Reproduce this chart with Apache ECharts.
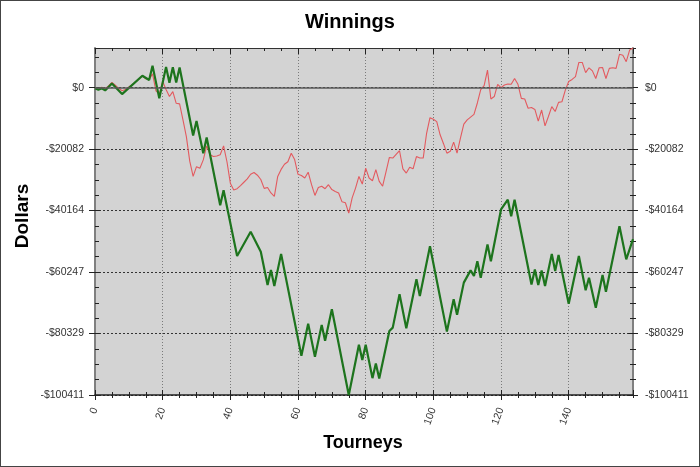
<!DOCTYPE html>
<html>
<head>
<meta charset="utf-8">
<script src="https://cdn.jsdelivr.net/npm/echarts@6/dist/echarts.min.js"></script>
<style>
  html, body { margin: 0; padding: 0; background: #fff; }
  #wrap { position: relative; width: 700px; height: 467px; box-sizing: border-box; border: 1px solid #444; }
  #chart { position: absolute; left: -1px; top: -1px; width: 700px; height: 467px; }
</style>
</head>
<body>
<div id="wrap"><div id="chart"></div></div>
<script>
// ---- data ----
const chartTitle = 'Winnings';
const xTitle = 'Tourneys';
const yTitle = 'Dollars';

// red series: one value per tourney (index = tourney number 0..159)
const redValues = [
  0, -400, 100, -300, 600, 1700, 800, -200, -1000, -600,
  200, 1000, 1900, 2900, 3800, 2900, 2700, 4500, -1000, -2000,
  2000, -600, -2900, -1300, -5100, -5300, -10500, -16000, -24000, -29000,
  -25800, -26300, -23600, -19000, -21900, -22500, -22300, -21900, -19000, -24200,
  -31200, -33400, -33000, -32000, -30900, -29800, -28300, -27700, -28600, -30000,
  -32900, -32600, -34400, -35500, -29000, -26700, -25000, -24200, -21400, -23500,
  -28300, -28700, -29500, -27600, -31700, -35200, -32600, -32200, -33000, -31700,
  -33300, -33900, -34400, -37300, -37600, -41000, -36000, -32800, -29000, -31500,
  -26300, -29500, -30400, -26800, -30600, -32200, -27500, -22800, -23000, -21800,
  -20600, -26500, -27900, -26000, -26500, -22500, -23000, -23000, -14900, -9800,
  -10300, -11100, -15400, -18300, -21400, -20800, -17800, -21400, -16500, -11900,
  -10500, -9600, -8700, -5000, -600, 650, 5750, -3700, -2900, 1100,
  0, 870, 1200, 1100, 3000, 1100, -3500, -3700, -6700, -6500,
  -7100, -10900, -7300, -12500, -9400, -6200, -7800, -4800, -4600, -800,
  2000, 2700, 3600, 8250, 8250, 4900, 6500, 5500, 3000, 6500,
  6600, 3000, 6300, 6500, 6300, 10900, 10600, 8500, 12300, 12965
];

// green series: turning points (tourney number, dollars)
const greenTourneys = [
  0, 1, 2, 3, 5, 8, 14, 16, 17, 19, 21, 22, 23, 24, 25, 29, 30, 32, 33, 37,
  38, 42, 46, 49, 51, 52, 53, 55, 61, 63, 65, 67, 68, 70, 75, 78, 79, 80, 82, 83,
  84, 87, 88, 90, 92, 95, 96, 99, 104, 106, 107, 109, 111, 112, 113, 114, 116, 117, 120, 122,
  123, 124, 129, 130, 131, 132, 133, 135, 136, 137, 140, 143, 145, 146, 148, 150, 151, 155, 157, 159
];
const greenValues = [
  -200, -700, -200, -900, 1400, -2100, 3900, 2500, 7200, -3500, 6800, 1600, 6700, 1700, 6600, -15600, -10900, -21400, -16300, -38400,
  -33500, -55000, -47100, -53600, -64500, -59600, -64800, -54300, -87600, -77100, -87900, -77500, -82700, -72400, -100411, -84000, -89000, -84000, -94900, -90100,
  -95000, -79500, -78400, -67500, -78600, -62600, -68100, -51800, -79700, -69100, -74200, -63700, -59700, -61500, -56700, -62100, -51200, -56700, -39800, -36600,
  -42000, -36600, -64300, -59400, -64500, -59700, -64800, -54300, -59900, -54700, -70600, -55000, -66200, -62100, -71900, -61200, -66700, -45300, -56100, -49500
];

// axis ranges / ticks
const xMin = 0, xMax = 159, xMajor = 20, xMinor = 5;
const yMin = -100411, yMax = 12965, yMajor = 20082.2, yMinor = 5020.55;

// ---- chart ----
const FONT = '"Liberation Sans", Arial, sans-serif';
const fmtDollar = v => {
  const r = Math.round(Math.abs(v));
  if (r === 0) return '$0';
  return (v < 0 ? '-' : '') + '$' + r;
};

function xAx(pos, interval, tick, extra) {
  return Object.assign({
    type: 'value', gridIndex: 0, position: pos, min: xMin, max: xMax, interval: interval,
    axisLine: { show: false, onZero: false },
    axisTick: tick,
    axisLabel: { show: false },
    splitLine: { show: false },
    silent: true
  }, extra || {});
}
function yAx(pos, interval, tick, extra) {
  return Object.assign({
    type: 'value', gridIndex: 0, position: pos, min: yMin, max: yMax, interval: interval,
    axisLine: { show: false, onZero: false },
    axisTick: tick,
    axisLabel: { show: false },
    splitLine: { show: false },
    silent: true
  }, extra || {});
}
const tickStyle = { color: '#222', width: 1 };

const chart = echarts.init(document.getElementById('chart'), null, { renderer: 'canvas' });
chart.setOption({
  animation: false,
  backgroundColor: 'transparent',
  grid: { left: 95, right: 67, top: 48, bottom: 72, show: true, backgroundColor: '#d3d3d3', borderWidth: 0, outerBoundsMode: 'none' },
  graphic: [
    { type: 'text', x: 350, y: 22, silent: true,
      style: { text: chartTitle, font: 'bold 20px ' + FONT, fill: '#000', align: 'center', verticalAlign: 'middle', textAlign: 'center', textVerticalAlign: 'middle' } },
    { type: 'text', x: 363, y: 443, silent: true,
      style: { text: xTitle, font: 'bold 18px ' + FONT, fill: '#000', align: 'center', verticalAlign: 'middle', textAlign: 'center', textVerticalAlign: 'middle' } },
    { type: 'text', x: 23, y: 216, rotation: Math.PI / 2, silent: true,
      style: { text: yTitle, font: 'bold 19px ' + FONT, fill: '#000', align: 'center', verticalAlign: 'middle', textAlign: 'center', textVerticalAlign: 'middle' } }
  ],
  xAxis: [
    xAx('bottom', xMajor, { show: true, inside: false, length: 5, lineStyle: tickStyle }, {
      axisLine: { show: true, onZero: false, lineStyle: { color: '#222', width: 1.5 } },
      axisLabel: { show: true, rotate: 70, margin: 13, fontSize: 10.5, fontFamily: FONT, color: '#333', showMaxLabel: false },
      splitLine: { show: true, lineStyle: { color: '#7a7a7a', width: 1, type: [1, 2] } }
    }),
    xAx('bottom', xMajor, { show: true, inside: true, length: 5, lineStyle: tickStyle }),
    xAx('bottom', xMinor, { show: true, inside: false, length: 3, lineStyle: tickStyle }),
    xAx('bottom', xMinor, { show: true, inside: true, length: 3, lineStyle: tickStyle }),
    xAx('top', xMajor, { show: true, inside: true, length: 6, lineStyle: tickStyle }, {
      axisLine: { show: true, onZero: false, lineStyle: { color: '#333', width: 1 } }
    }),
    xAx('top', xMinor, { show: true, inside: true, length: 3, lineStyle: tickStyle })
  ],
  yAxis: [
    yAx('left', yMajor, { show: true, inside: false, length: 6, lineStyle: tickStyle }, {
      axisLine: { show: true, onZero: false, lineStyle: { color: '#808080', width: 2 } },
      axisLabel: { show: true, margin: 11, fontSize: 10.5, fontFamily: FONT, color: '#333', formatter: fmtDollar, showMaxLabel: false },
      splitLine: { show: true, lineStyle: { color: '#333', width: 1, type: [2, 2] } }
    }),
    yAx('left', yMajor, { show: true, inside: true, length: 5, lineStyle: tickStyle }),
    yAx('left', yMinor, { show: true, inside: true, length: 4, lineStyle: tickStyle }),
    yAx('right', yMajor, { show: true, inside: false, length: 5, lineStyle: tickStyle }, {
      axisLine: { show: true, onZero: false, lineStyle: { color: '#808080', width: 2 } },
      axisLabel: { show: true, margin: 12, fontSize: 10.5, fontFamily: FONT, color: '#333', formatter: fmtDollar, showMaxLabel: false }
    }),
    yAx('right', yMajor, { show: true, inside: true, length: 5, lineStyle: tickStyle }),
    yAx('right', yMinor, { show: true, inside: true, length: 3, lineStyle: tickStyle }),
    yAx('right', yMinor, { show: true, inside: false, length: 3, lineStyle: tickStyle })
  ],
  series: [
    {
      name: 'red', type: 'line', xAxisIndex: 0, yAxisIndex: 0,
      data: redValues.map((v, i) => [i, v]),
      symbol: 'none', showSymbol: false,
      lineStyle: { color: '#e35a5f', width: 1.1 },
      silent: true, z: 3,
      markLine: {
        silent: true, symbol: ['none', 'none'], animation: false,
        label: { show: false },
        lineStyle: { color: '#5a5a5a', width: 1.5, type: 'solid' },
        data: [{ yAxis: 0 }]
      }
    },
    {
      name: 'green', type: 'line', xAxisIndex: 0, yAxisIndex: 0,
      data: greenTourneys.map((t, i) => [t, greenValues[i]]),
      symbol: 'none', showSymbol: false,
      lineStyle: { color: '#1d741d', width: 2.2 },
      silent: true, z: 4
    }
  ]
});
</script>
</body>
</html>
